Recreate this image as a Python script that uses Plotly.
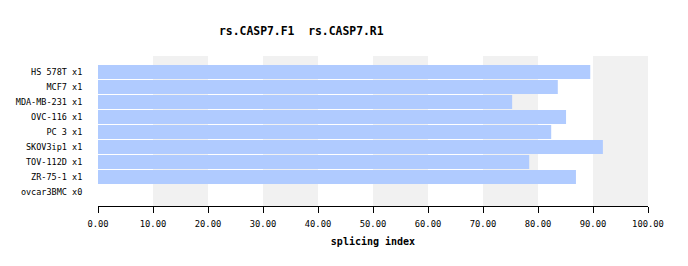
import plotly.graph_objects as go

categories = ["HS 578T x1", "MCF7 x1", "MDA-MB-231 x1", "OVC-116 x1", "PC 3 x1",
              "SKOV3ip1 x1", "TOV-112D x1", "ZR-75-1 x1", "ovcar3BMC x0"]
values = [89.5, 83.6, 75.3, 85.1, 82.4, 91.8, 78.4, 86.9, None]
x_ticks = [0, 10, 20, 30, 40, 50, 60, 70, 80, 90, 100]
bands = [(10, 20), (30, 40), (50, 60), (70, 80), (90, 100)]

FONT = "DejaVu Sans Mono"

fig = go.Figure()
fig.add_trace(go.Bar(
    y=list(range(len(categories))), x=values, orientation="h",
    marker=dict(color="#b0cbff", line=dict(width=0)),
    hoverinfo="x+y",
))

shapes = []
for a, b in bands:
    shapes.append(dict(type="rect", xref="x", yref="paper", x0=a, x1=b, y0=0, y1=1,
                       fillcolor="#f1f1f1", line=dict(width=0), layer="below"))

fig.update_layout(
    width=688, height=266,
    margin=dict(l=98, r=40, t=56, b=60),
    paper_bgcolor="white", plot_bgcolor="white",
    bargap=0.067,
    showlegend=False,
    shapes=shapes,
    font=dict(family=FONT, size=8.5, color="black"),
    annotations=[dict(text="<b>rs.CASP7.F1  rs.CASP7.R1</b>", xref="paper", yref="paper",
                      x=(301 - 98) / 550, y=1, yshift=25, xanchor="center", yanchor="middle",
                      showarrow=False, font=dict(family=FONT, size=11.4, color="black"))],
    xaxis=dict(range=[0, 100], tickvals=x_ticks, tickformat=".2f",
               ticks="outside", ticklen=6, tickcolor="black", tickwidth=1,
               ticklabelstandoff=3,
               showline=True, linecolor="black", linewidth=1,
               showgrid=False, zeroline=False,
               title=dict(text="<b>splicing index</b>", font=dict(family=FONT, size=10), standoff=10),
               tickfont=dict(family=FONT, size=8.8)),
    yaxis=dict(range=[8.933, -1.067], tickvals=list(range(len(categories))),
               ticktext=categories, showgrid=False, zeroline=False, showline=False,
               ticks="outside", ticklen=13, tickcolor="rgba(0,0,0,0)",
               tickfont=dict(family=FONT, size=8.5)),
)

fig.write_html("out.html")
